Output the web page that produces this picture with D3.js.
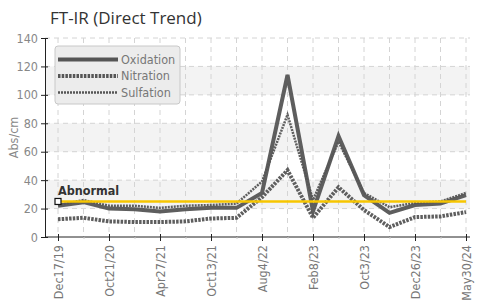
<!DOCTYPE html>
<html>
<head>
<meta charset="utf-8">
<script src="https://cdn.jsdelivr.net/npm/d3@7"></script>
<style>
  body { margin: 0; background: #fff; }
  svg { display: block; }
  .narrow { font-family: "Liberation Sans Narrow", "DejaVu Sans Condensed", "Arial Narrow", sans-serif; }
</style>
</head>
<body>
<svg></svg>
<script>
// sample index 0..16, only every other sample has a label on the axis
let tickLabels = ['Dec17/19', 'Oct21/20', 'Apr27/21', 'Oct13/21', 'Aug4/22', 'Feb8/23', 'Oct3/23', 'Dec26/23', 'May30/24'];
let tickIndex = [0, 2, 4, 6, 8, 10, 12, 14, 16];

let oxidation = [22, 24.5, 20, 19.5, 18, 19.5, 20.5, 20.5, 31, 114, 18, 71, 29.5, 17, 22.5, 23.5, 29.5];
let nitration = [12.5, 13.5, 11, 10.5, 10.5, 11, 13, 13.5, 28, 47, 13.5, 35, 19, 7, 14, 14.5, 17.5];
let sulfation = [22.5, 26, 22, 22, 20.5, 22, 22.5, 23.5, 39, 86, 26, 67, 31, 21, 24, 25, 31];
let abnormal = 25;

let yTicks = [0, 20, 40, 60, 80, 100, 120, 140];

let width = 478;
let height = 305;
let plotLeft = 45, plotRight = 470, plotTop = 38, plotBottom = 237;

let svg = d3.select('svg').attr('width', width).attr('height', height);

let xScale = d3.scalePoint().domain(d3.range(oxidation.length)).range([58, 466]);
let yScale = d3.scaleLinear().domain([0, 140]).range([plotBottom, plotTop]);

// title
svg.append('text')
  .attr('x', 50).attr('y', 24)
  .attr('font-family', '"Open Sans", sans-serif')
  .attr('font-size', 17)
  .attr('fill', '#333')
  .text('FT-IR (Direct Trend)');

// alternating bands
for (let i = 0; i < yTicks.length - 1; i++) {
  if (i % 2 === 1) {
    svg.append('rect')
      .attr('x', plotLeft).attr('y', yScale(yTicks[i + 1]))
      .attr('width', plotRight - plotLeft)
      .attr('height', yScale(yTicks[i]) - yScale(yTicks[i + 1]))
      .attr('fill', '#f3f3f3');
  }
}

// grid
svg.append('g').selectAll('line')
  .data(yTicks.slice(1))
  .enter().append('line')
  .attr('x1', plotLeft).attr('x2', plotRight)
  .attr('y1', d => yScale(d)).attr('y2', d => yScale(d))
  .attr('stroke', '#d4d4d4').attr('stroke-dasharray', '5,4');

svg.append('g').selectAll('line')
  .data(xScale.domain())
  .enter().append('line')
  .attr('x1', d => xScale(d)).attr('x2', d => xScale(d))
  .attr('y1', plotTop).attr('y2', plotBottom)
  .attr('stroke', '#d4d4d4').attr('stroke-dasharray', '5,4');

// axes
let yAxis = d3.axisLeft(yScale).tickValues(yTicks).tickSizeInner(4).tickSizeOuter(0).tickPadding(3);
let gy = svg.append('g').attr('transform', 'translate(' + plotLeft + ',0)').call(yAxis);
gy.select('.domain').attr('stroke', '#222');
gy.selectAll('.tick line').attr('x1', -4).attr('x2', 3).attr('stroke', '#222');
gy.selectAll('.tick text')
  .attr('class', 'narrow')
  .attr('font-size', 12.5)
  .attr('fill', '#888');

let xAxis = d3.axisBottom(xScale).tickValues(xScale.domain()).tickSizeOuter(0)
  .tickFormat(d => {
    let k = tickIndex.indexOf(d);
    return k >= 0 ? tickLabels[k] : '';
  });
let gx = svg.append('g').attr('transform', 'translate(0,' + plotBottom + ')').call(xAxis);
gx.select('.domain').attr('d', 'M' + plotLeft + ',0H' + plotRight).attr('stroke', '#222');
gx.selectAll('.tick line')
  .attr('y1', d => tickIndex.indexOf(d) >= 0 ? -3 : 0)
  .attr('y2', d => tickIndex.indexOf(d) >= 0 ? 4 : 2)
  .attr('stroke', d => tickIndex.indexOf(d) >= 0 ? '#222' : '#ccc');
gx.selectAll('.tick text')
  .attr('class', 'narrow')
  .attr('font-size', 12.5)
  .attr('fill', '#777')
  .attr('text-anchor', 'end')
  .attr('transform', 'rotate(-90)')
  .attr('x', -8).attr('y', 0).attr('dy', '0.35em');

// y label
svg.append('text')
  .attr('class', 'narrow')
  .attr('transform', 'translate(18,' + ((plotTop + plotBottom) / 2) + ') rotate(-90)')
  .attr('text-anchor', 'middle')
  .attr('font-size', 12.5)
  .attr('fill', '#888')
  .text('Abs/cm');

// series
let series = [
  { name: 'Oxidation', values: oxidation, w: 4, dash: null },
  { name: 'Nitration', values: nitration, w: 4, dash: '2.5,1.2' },
  { name: 'Sulfation', values: sulfation, w: 2.5, dash: '2,1' }
];

let line = d3.line().x((d, i) => xScale(i)).y(d => yScale(d));

series.forEach(s => {
  svg.append('path')
    .datum(s.values)
    .attr('d', line)
    .attr('fill', 'none')
    .attr('stroke', '#555')
    .attr('stroke-width', s.w)
    .attr('stroke-dasharray', s.dash)
    .attr('stroke-linejoin', 'miter')
    .attr('opacity', 0.95);
});

// abnormal limit
svg.append('line')
  .attr('x1', xScale(0)).attr('x2', xScale(oxidation.length - 1))
  .attr('y1', yScale(abnormal)).attr('y2', yScale(abnormal))
  .attr('stroke', '#f7c600').attr('stroke-width', 2.5);
svg.append('rect')
  .attr('x', xScale(0) - 3).attr('y', yScale(abnormal) - 3)
  .attr('width', 6).attr('height', 6)
  .attr('fill', '#fff').attr('stroke', '#111').attr('stroke-width', 1.2);
svg.append('text')
  .attr('class', 'narrow')
  .attr('x', xScale(0)).attr('y', yScale(abnormal) - 6)
  .attr('font-size', 12.5)
  .attr('font-weight', 'bold')
  .attr('fill', '#333')
  .text('Abnormal');

// legend
let lg = svg.append('g').attr('transform', 'translate(55,46)');
lg.append('rect')
  .attr('width', 125).attr('height', 58).attr('rx', 3)
  .attr('fill', '#ececec').attr('stroke', '#c8c8c8');
series.forEach((s, i) => {
  let y = 13.5 + i * 16.5;
  lg.append('line')
    .attr('x1', 3).attr('x2', 63).attr('y1', y).attr('y2', y)
    .attr('stroke', '#555')
    .attr('stroke-width', s.w)
    .attr('stroke-dasharray', s.dash);
  lg.append('text')
    .attr('class', 'narrow')
    .attr('x', 66).attr('y', y).attr('dy', '0.35em')
    .attr('font-size', 12.5)
    .attr('fill', '#777')
    .text(s.name);
});
</script>
</body>
</html>
